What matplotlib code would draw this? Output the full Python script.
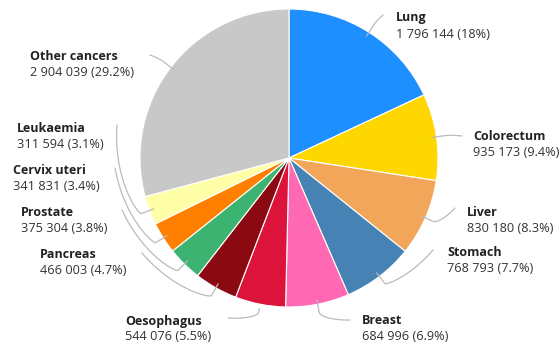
import numpy as np
import matplotlib
matplotlib.use("Agg")
import matplotlib.pyplot as plt

# cancer deaths by site, clockwise from 12 o'clock
sites = ["Lung", "Colorectum", "Liver", "Stomach", "Breast", "Oesophagus",
         "Pancreas", "Prostate", "Cervix uteri", "Leukaemia", "Other cancers"]
deaths = [1796144, 935173, 830180, 768793, 684996, 544076,
          466003, 375304, 341831, 311594, 2904039]
shares = ["18%", "9.4%", "8.3%", "7.7%", "6.9%", "5.5%",
          "4.7%", "3.8%", "3.4%", "3.1%", "29.2%"]
colors = ["#1E8FFF", "#FFD700", "#F2A65A", "#4682B4", "#FF69B4", "#DC143C",
          "#8B0A12", "#3CB371", "#FF8000", "#FFFFA8", "#C8C8C8"]

W, H = 559, 345
CX, CY, R = 289, 158, 149   # pie centre / radius in pixels (y down)

# label anchor (left edge of text, y of name line) in pixels
label_pos = [(396, 18), (473, 137), (467, 212), (447, 253), (362, 321), (125, 321),
             (40, 255), (21, 213), (13, 170), (17, 128), (30, 57)]
# where the leader line ends, in pixels
leader_end = [(383, 15), (462, 136), (455, 208), (433, 250), (350, 320), (228, 318),
              (142, 253), (122, 210), (115, 168), (117, 125), (150, 55)]

plt.rcParams["font.family"] = ["Open Sans", "DejaVu Sans"]

fig = plt.figure(figsize=(W / 100, H / 100), dpi=100)
ax = fig.add_axes([0, 0, 1, 1])

explode = [0.04 if s == "Oesophagus" else 0 for s in sites]
ax.pie(deaths, colors=colors, startangle=90, counterclock=False,
       center=(CX, H - CY), radius=R, explode=explode, frame=True,
       wedgeprops=dict(edgecolor="white", linewidth=0.8))


def to_xy(ang, r):
    # ang in degrees clockwise from top, returns data coords
    a = np.radians(ang)
    return CX + r * np.sin(a), H - (CY - r * np.cos(a))


total = sum(deaths)
cum = np.cumsum([0] + deaths)
for i, s in enumerate(sites):
    mid = (cum[i] + cum[i + 1]) / 2 / total * 360
    ex, ey = leader_end[i]
    dx, dy = ex - CX, CY - ey
    a_end = np.degrees(np.arctan2(dx, dy)) % 360
    r_end = np.hypot(dx, dy)
    if a_end - mid > 180:
        a_end -= 360
    if mid - a_end > 180:
        a_end += 360
    r0 = R * (1.03 if explode[i] else 0.97)
    xs, ys = [], []
    x, y = to_xy(mid, r0)
    xs.append(x); ys.append(y)
    t = np.linspace(0, 1, 30)
    angs = mid + (a_end - mid) * t ** 1.5
    rads = R * 1.06 + (r_end - R * 1.06) * t
    for a, r in zip(angs, rads):
        x, y = to_xy(a, r)
        xs.append(x); ys.append(y)
    ax.plot(xs, ys, color="#BBBBBB", lw=0.9, solid_capstyle="round")

    lx, ly = label_pos[i]
    ax.text(lx, H - ly, s, fontsize=9, fontweight="bold", color="#222222",
            ha="left", va="center")
    ax.text(lx, H - ly - 16, f"{deaths[i]:,}".replace(",", " ") + f" ({shares[i]})",
            fontsize=9.2, color="#333333", ha="left", va="center")

ax.set_xlim(0, W)
ax.set_ylim(0, H)
ax.set_aspect("equal")
ax.axis("off")

fig.savefig("out.png", dpi=100, facecolor="white")
